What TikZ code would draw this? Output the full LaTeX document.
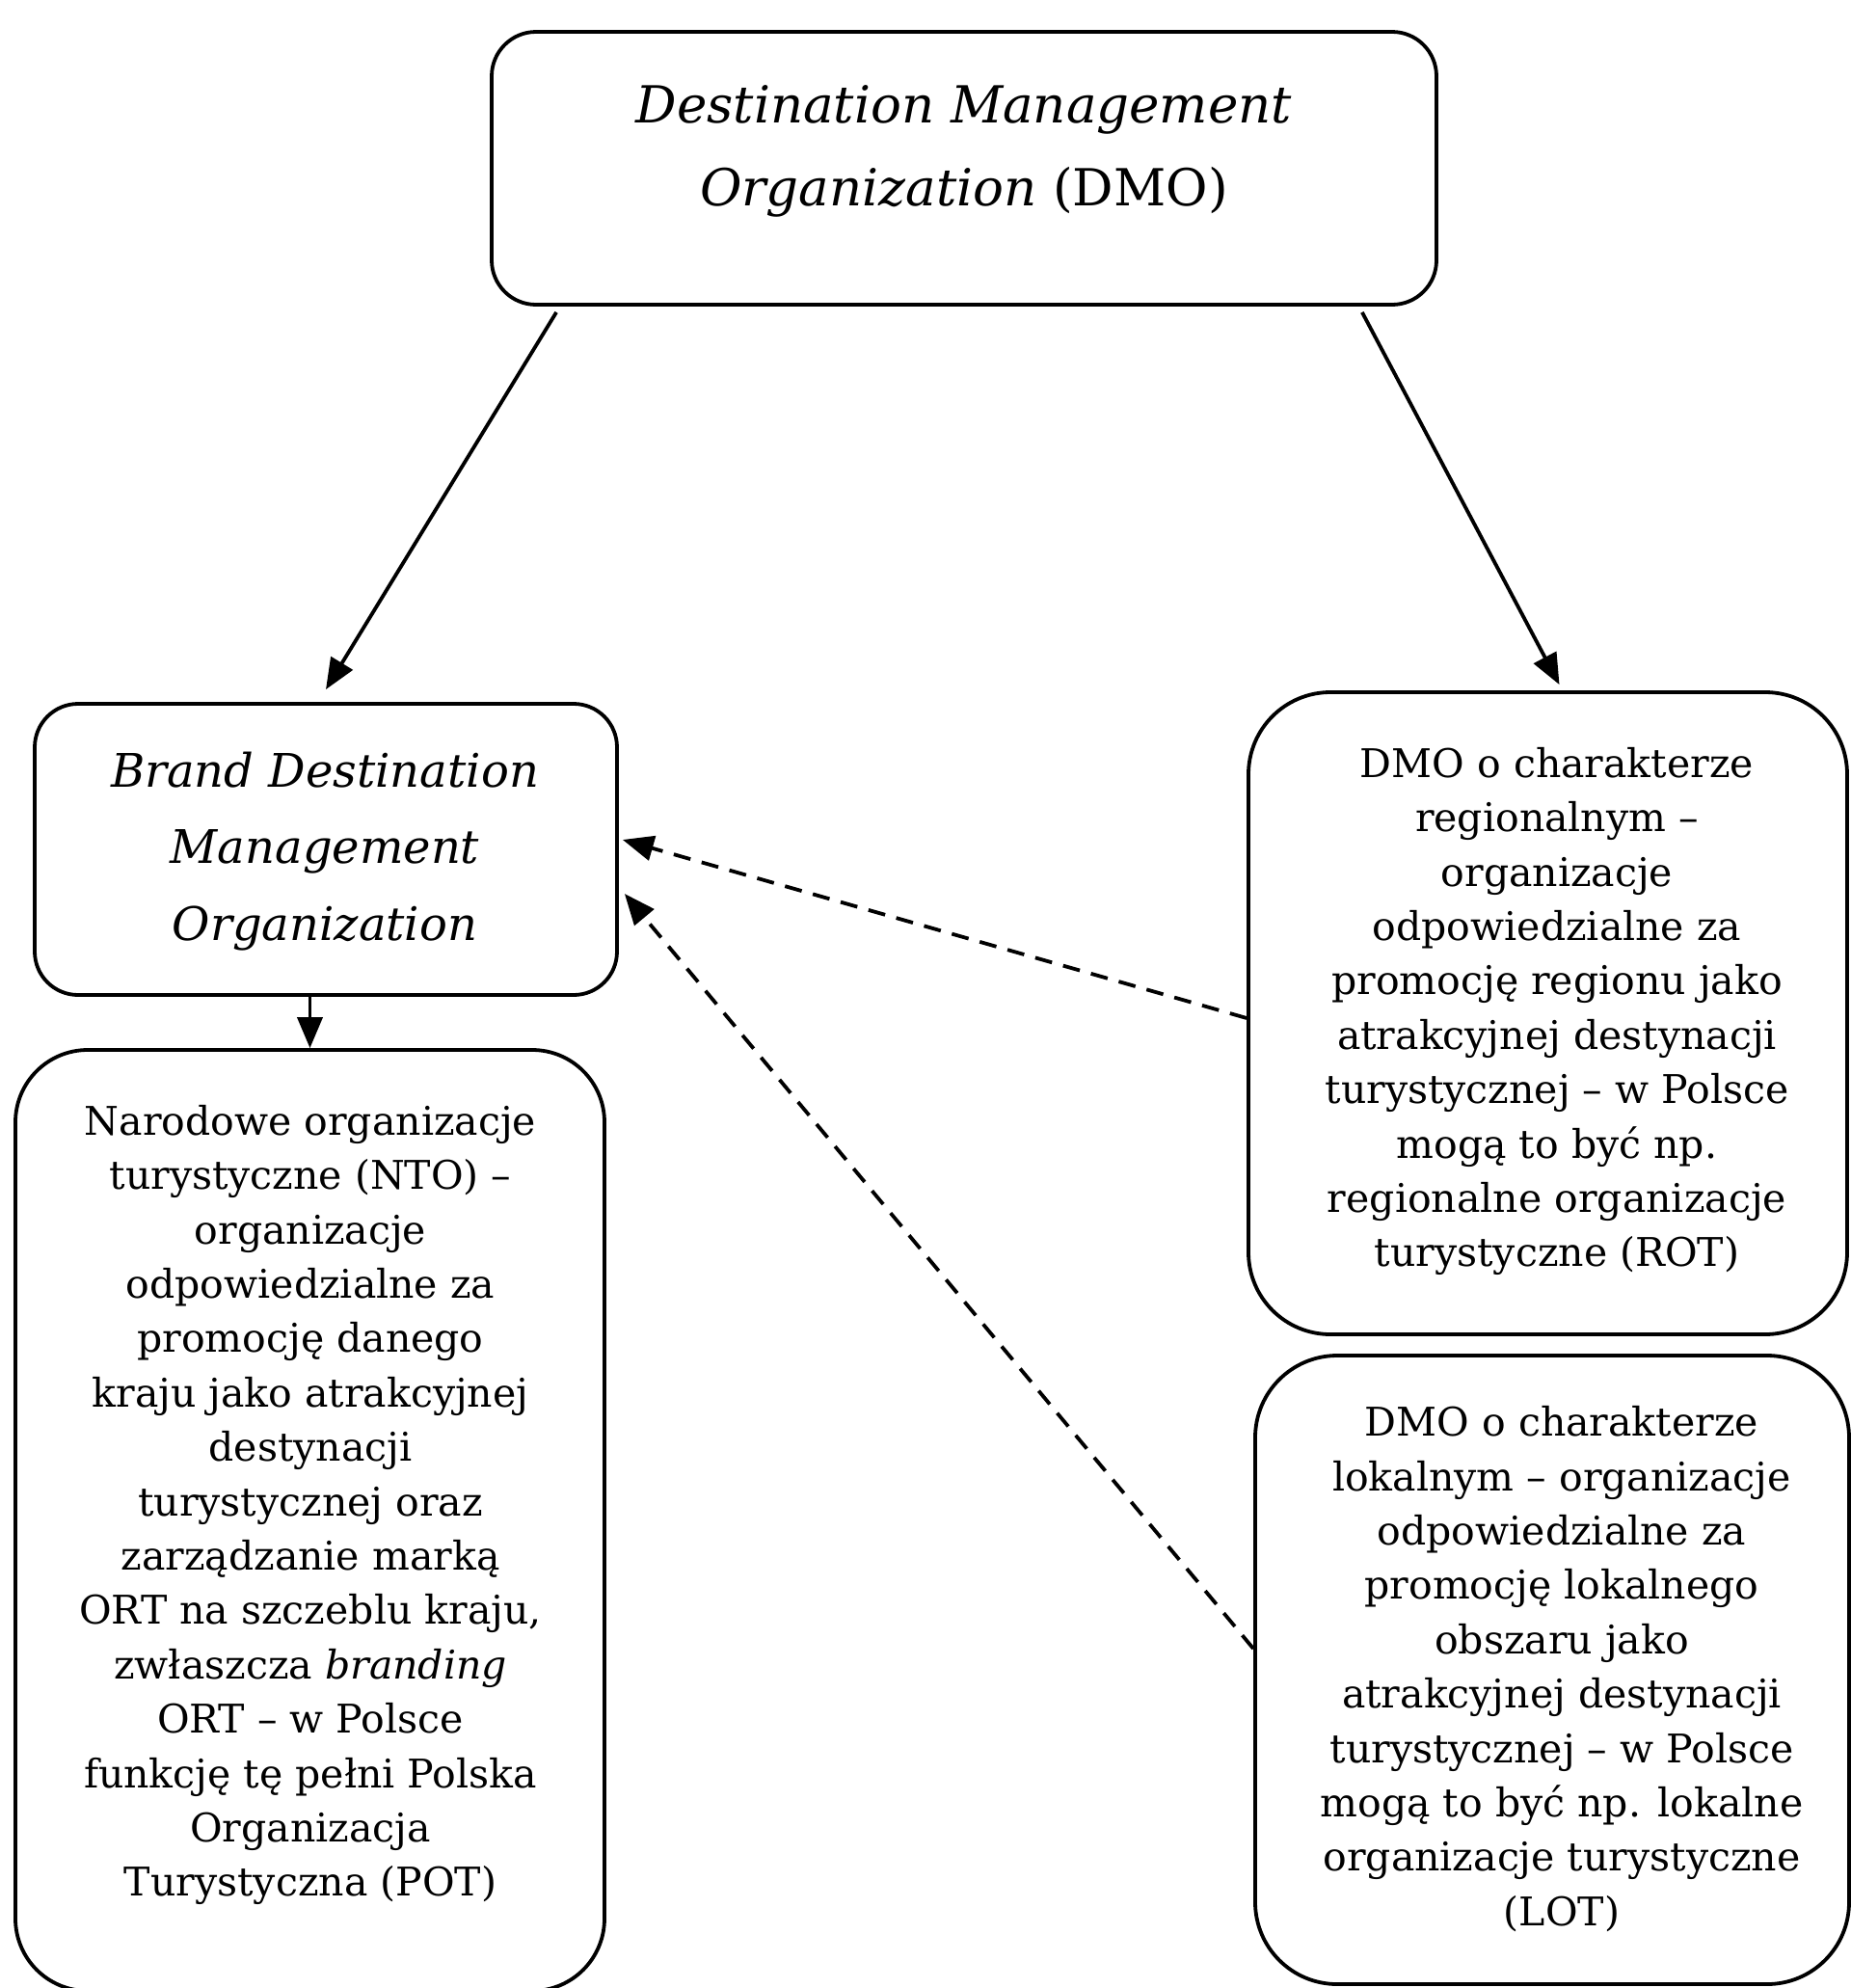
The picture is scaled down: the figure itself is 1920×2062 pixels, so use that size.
\documentclass[tikz,border=0pt]{standalone}
\usepackage{fontspec}
\setmainfont{DejaVu Serif}
\usetikzlibrary{arrows.meta}
\begin{document}
\begin{tikzpicture}[x=1pt,y=-1pt,
  box/.style={draw, line width=3.8pt, rounded corners=#1, inner sep=0pt},
  body/.style={align=center, inner sep=0pt, font=\fontsize{41}{56.4}\selectfont},
  title/.style={align=center, inner sep=0pt, font=\fontsize{53}{86}\selectfont},
  btitle/.style={align=center, inner sep=0pt, font=\fontsize{48}{79.6}\selectfont\itshape},
  arr/.style={line width=3.8pt, -{Triangle[length=32pt,width=26pt]}},
  darr/.style={line width=3.8pt, dash pattern=on 18pt off 12pt, -{Triangle[length=32pt,width=26pt]}}]
\useasboundingbox (0,0) rectangle (1920,2062);
\clip (0,0) rectangle (1920,2062);
\fill[white] (0,0) rectangle (1920,2062);
% boxes
\node[box=46pt, minimum width=980pt, minimum height=283pt] (top) at (1000,174.5) {};
\node[box=45pt, minimum width=604pt, minimum height=302pt] (bdmo) at (338,881) {};
\node[box=75pt, minimum width=611pt, minimum height=976pt] (nto) at (321.5,1577) {};
\node[box=85pt, minimum width=621pt, minimum height=666pt] (rot) at (1605.5,1051) {};
\node[box=85pt, minimum width=616pt, minimum height=652pt] (lot) at (1610,1732) {};
% texts
\node[title] (ttop) at (1000,157) {\textit{Destination Management}\\\textit{Organization} (DMO)};
\node[btitle] (tbdmo) at (337,883) {Brand Destination\\Management\\Organization};
\node[body] (tnto) at (322,1561) {Narodowe organizacje\\turystyczne (NTO) –\\organizacje\\odpowiedzialne za\\promocję danego\\kraju jako atrakcyjnej\\destynacji\\turystycznej oraz\\zarządzanie marką\\ORT na szczeblu kraju,\\zwłaszcza \textit{branding}\\ORT – w Polsce\\funkcję tę pełni Polska\\Organizacja\\Turystyczna (POT)};
\node[body] (trot) at (1615,1049) {DMO o charakterze\\regionalnym –\\organizacje\\odpowiedzialne za\\promocję regionu jako\\atrakcyjnej destynacji\\turystycznej – w Polsce\\mogą to być np.\\regionalne organizacje\\turystyczne (ROT)};
\node[body] (tlot) at (1620,1731) {DMO o charakterze\\lokalnym – organizacje\\odpowiedzialne za\\promocję lokalnego\\obszaru jako\\atrakcyjnej destynacji\\turystycznej – w Polsce\\mogą to być np. lokalne\\organizacje turystyczne\\(LOT)};
% connectors
\draw[arr] ([xshift=69pt,yshift=-6pt]top.south west) -- ([yshift=13pt]bdmo.north);
\draw[arr] ([xshift=-79pt,yshift=-6pt]top.south east) -- ([xshift=12pt,yshift=6pt]rot.north);
\draw[arr] (bdmo.south -| nto.north) -- (nto.north);
\draw[darr] ([yshift=-5pt]rot.west) -- ([xshift=4pt,yshift=10pt]bdmo.east);
\draw[darr] ([yshift=22pt]lot.west) -- ([xshift=6pt,yshift=-46pt]bdmo.east);
\end{tikzpicture}
\end{document}
